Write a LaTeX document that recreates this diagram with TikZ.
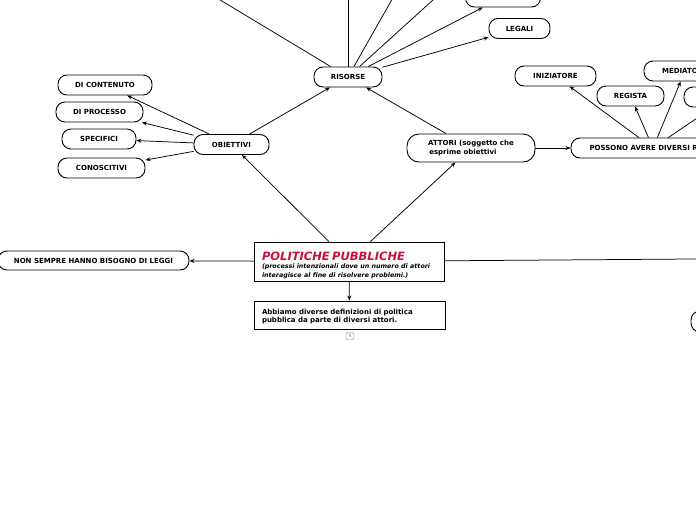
\documentclass[tikz,border=0pt]{standalone}
\usepackage{fontspec}
\setmainfont{DejaVu Sans}
\usepackage{xcolor}
\usetikzlibrary{arrows.meta}
\definecolor{titlered}{RGB}{204,16,58}

\begin{document}
\begin{tikzpicture}[x=1pt, y=-1pt, font=\fontsize{7}{8.5}\selectfont\bfseries,
  >={Stealth[length=5pt,width=4pt]},
  pill/.style={draw, fill=white, line width=0.9pt, rounded corners=9pt, minimum height=20pt, inner sep=2pt},
  plainbox/.style={draw, fill=white, line width=0.9pt, inner sep=0pt},
  link/.style={->, line width=0.75pt}]
  \useasboundingbox (0,0) rectangle (696,520);
  \clip (0,0) rectangle (696,520);
  % central topic
  \node[plainbox, minimum width=190pt, minimum height=39pt, text width=174pt, align=left] (pp) at (349,261.5)
    {\rule{0pt}{16pt}{\fontsize{11.5}{12}\selectfont\itshape\color{titlered}POLITICHE PUBBLICHE}\\
     \fontsize{6.3}{8}\selectfont\itshape (processi intenzionali dove un numero di attori\\ interagisce al fine di risolvere problemi.)};
  \node[plainbox, minimum width=191pt, minimum height=28pt, text width=175pt, align=left] (abbiamo) at (349.5,315)
    {\rule{0pt}{8pt}Abbiamo diverse definizioni di politica\\ pubblica da parte di diversi attori.};
  \node[draw=gray, text=gray, rounded corners=1.5pt, inner sep=0pt, minimum width=8pt, minimum height=7pt,
    font=\fontsize{5}{5}\selectfont] (badge) at (350,336) {4};
  \node[pill, minimum width=191pt, minimum height=19pt] (nonsempre) at (93.5,260.5) {NON SEMPRE HANNO BISOGNO DI LEGGI};
  \node[pill, minimum width=98pt, minimum height=21pt] (destra) at (740,321.5) {};
  \coordinate (fuori) at (760,258.5);
  % risorse
  \node[pill, minimum width=68pt] (risorse) at (348,77) {RISORSE};
  \node[pill, minimum width=61pt] (legali) at (519.5,28.5) {LEGALI};
  \node[pill, minimum width=75pt] (altre) at (503,-3) {};
  \coordinate (r1) at (187,-20);
  \coordinate (r2) at (348,-20);
  \coordinate (r3) at (403,-20);
  \coordinate (r4) at (455,-20);
  % obiettivi
  \node[pill, minimum width=75pt] (obiettivi) at (231.5,144.5) {OBIETTIVI};
  \node[pill, minimum width=94pt] (contenuto) at (105,85) {DI CONTENUTO};
  \node[pill, minimum width=87pt] (processo) at (99.5,112) {DI PROCESSO};
  \node[pill, minimum width=74pt] (specifici) at (99,139) {SPECIFICI};
  \node[pill, minimum width=87pt] (conoscitivi) at (101.5,168) {CONOSCITIVI};
  % attori e ruoli
  \node[pill, minimum width=128pt, minimum height=28pt, rounded corners=12pt, align=left] (attori) at (471,148)
    {ATTORI (soggetto che\\ \,esprime obiettivi};
  \node[pill, minimum width=164pt] (ruoli) at (653,148) {POSSONO AVERE DIVERSI RUOLI};
  \node[pill, minimum width=81pt] (iniziatore) at (555.5,76) {INIZIATORE};
  \node[pill, minimum width=67pt] (regista) at (630.5,96) {REGISTA};
  \node[pill, minimum width=82pt] (mediatore) at (685,71) {MEDIATORE};
  \node[pill, minimum width=88pt] (ruolo4) at (728,97) {};

  \draw[link] (pp) -- (obiettivi);
  \draw[link] (pp) -- (attori);
  \draw[link] (pp) -- (nonsempre);
  \draw[link] (pp) -- (fuori);
  \draw[link] (pp) -- (abbiamo);
  \draw[link] (obiettivi) -- (risorse);
  \draw[link] (attori) -- (risorse);
  \draw[link] (attori) -- (ruoli);
  \draw[link] (obiettivi) -- (contenuto);
  \draw[link] (obiettivi) -- (processo);
  \draw[link] (obiettivi) -- (specifici);
  \draw[link] (obiettivi) -- (conoscitivi);
  \draw[link] (risorse) -- (r1);
  \draw[link] (risorse) -- (r2);
  \draw[link] (risorse) -- (r3);
  \draw[link] (risorse) -- (r4);
  \draw[link] (risorse) -- (altre);
  \draw[link] (risorse) -- (legali);
  \draw[link] (ruoli) -- (iniziatore);
  \draw[link] (ruoli) -- (regista);
  \draw[link] (ruoli) -- (mediatore);
  \draw[link] (ruoli) -- (ruolo4);
\end{tikzpicture}
\end{document}
